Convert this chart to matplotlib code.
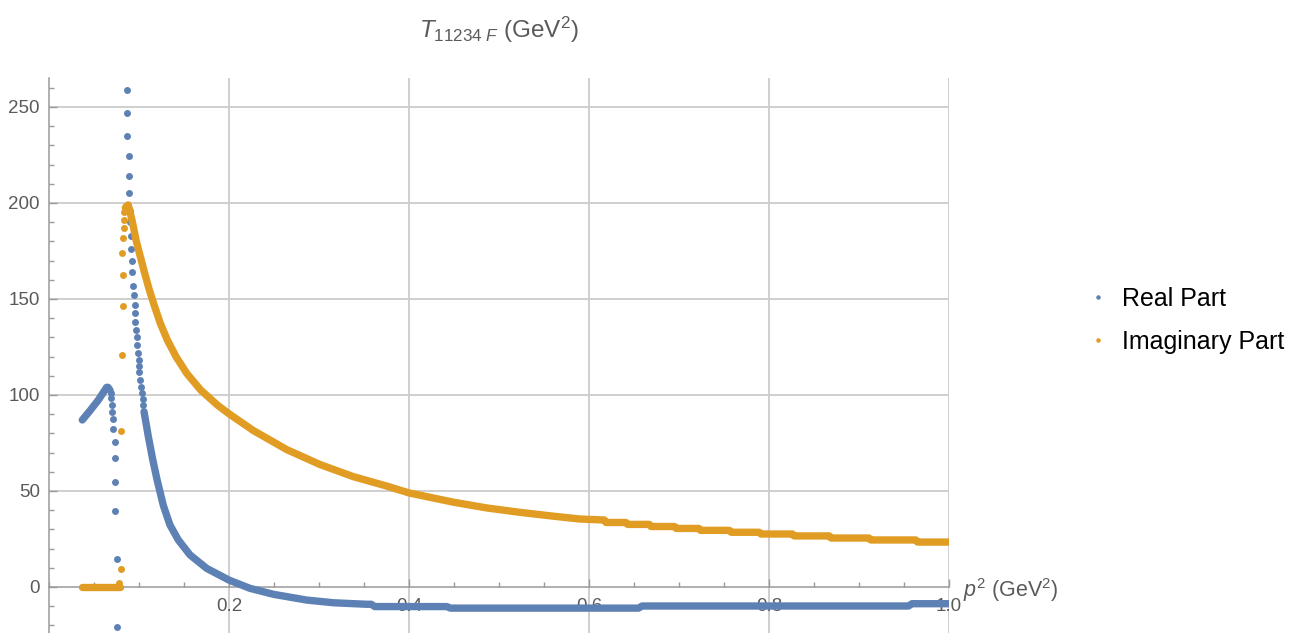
import matplotlib
matplotlib.use("Agg")
import matplotlib.pyplot as plt
from matplotlib.ticker import MultipleLocator

plt.rcParams['font.family'] = ['Liberation Sans', 'DejaVu Sans']
plt.rcParams['mathtext.fontset'] = 'custom'
plt.rcParams['mathtext.rm'] = 'Liberation Sans'
plt.rcParams['mathtext.it'] = 'Liberation Sans:italic'

# ---- real part ----
# dense rise before the first pole
re_rise_x = [0.0370, 0.0450, 0.0550, 0.0641, 0.0655, 0.0678]
re_rise_y = [87.0, 91.5, 97.5, 104.0, 104.0, 102.5]
# sparse fall into the pole
re_drop_x = [0.0685, 0.0690, 0.0696, 0.0700, 0.0707, 0.0707, 0.0733, 0.0733,
             0.0735, 0.0735, 0.0752, 0.0759]
re_drop_y = [101.0, 98.5, 94.8, 91.3, 87.3, 82.3, 75.4, 67.0,
             54.8, 39.7, 14.4, -21.0]
# sparse points coming back down from above
re_top_x = [0.0863, 0.0863, 0.0863, 0.0885, 0.0885, 0.0885, 0.0896, 0.0900,
            0.0907, 0.0907, 0.0926, 0.0926, 0.0937, 0.0948, 0.0952, 0.0952,
            0.0954, 0.0963, 0.0974, 0.0978, 0.0993, 0.0996, 0.0996, 0.0998,
            0.1011, 0.1022, 0.1030, 0.1041, 0.1048]
re_top_y = [259.0, 247.0, 235.0, 224.5, 214.0, 205.0, 196.0, 190.0,
            183.0, 176.0, 170.0, 164.0, 157.0, 152.0, 147.0, 142.5,
            138.0, 134.0, 130.0, 126.0, 122.0, 118.0, 115.0, 112.0,
            108.0, 104.0, 101.0, 98.0, 95.0]
# dense tail
re_tail_x = [0.1056, 0.1104, 0.1152, 0.1200, 0.1270, 0.1344, 0.1437, 0.1567,
             0.1752, 0.2000, 0.2233, 0.2493, 0.2863, 0.3160,
             0.3530, 0.3580, 0.3620, 0.4420, 0.4460, 0.6550, 0.6590,
             0.9550, 0.9590, 1.0000]
re_tail_y = [91.3, 78.3, 66.5, 56.0, 42.5, 32.3, 24.5, 16.7,
             9.7, 3.6, -0.7, -3.8, -6.8, -8.2,
             -9.0, -9.0, -10.2, -10.2, -11.0, -11.0, -9.9,
             -9.9, -8.7, -8.7]

# ---- imaginary part ----
im_zero_x = [0.0363, 0.0785]
im_zero_y = [0.0, 0.0]
im_rise_x = [0.0780, 0.0796, 0.0796, 0.0807, 0.0819, 0.0819, 0.0815, 0.0819,
             0.0837, 0.0837, 0.0833]
im_rise_y = [1.9, 9.2, 81.4, 120.6, 146.2, 162.5, 173.8, 181.6,
             186.8, 191.1, 195.5]
im_tail_x = [0.0848, 0.0865, 0.0880, 0.0895, 0.0930, 0.0967, 0.1015, 0.1063,
             0.1115, 0.1174, 0.1237, 0.1315, 0.1411, 0.1530, 0.1685, 0.1870,
             0.2000, 0.2270, 0.2640, 0.3010, 0.3380, 0.3750, 0.4000, 0.4490,
             0.4860, 0.5230, 0.5600, 0.5900,
             0.617, 0.619, 0.641, 0.643, 0.667, 0.669, 0.695, 0.697,
             0.722, 0.724, 0.756, 0.758, 0.789, 0.791, 0.826, 0.828,
             0.867, 0.869, 0.911, 0.913, 0.963, 0.965, 1.000]
im_tail_y = [197.5, 198.5, 199.0, 196.5, 189.4, 180.7, 172.0, 163.4,
             154.7, 146.0, 137.3, 128.6, 120.0, 111.3, 102.6, 94.8,
             90.2, 81.5, 71.6, 63.8, 57.5, 52.6, 49.0, 44.2,
             41.2, 38.9, 36.9, 35.4,
             34.9, 33.6, 33.6, 32.6, 32.6, 31.5, 31.5, 30.5,
             30.5, 29.5, 29.5, 28.5, 28.5, 27.6, 27.6, 26.6,
             26.6, 25.5, 25.5, 24.5, 24.5, 23.4, 23.4]

xticks = [0.2, 0.4, 0.6, 0.8, 1.0]
yticks = [0, 50, 100, 150, 200, 250]

blue = '#5E81B5'
orange = '#E19C24'
grid_c = '#cccccc'
axis_c = '#9a9a9a'
text_c = '#5a5a5a'

fig = plt.figure(figsize=(12.89, 6.33), dpi=100)
ax = fig.add_axes([49 / 1289, 0, 900 / 1289, 555 / 633])
ax.set_xlim(0, 1.0)
ax.set_ylim(-23.96, 265.1)

for gx in xticks:
    ax.axvline(gx, color=grid_c, lw=1.3, zorder=1)
for gy in yticks[1:]:
    ax.axhline(gy, color=grid_c, lw=1.3, zorder=1)

dense = dict(ls='-', lw=5.3, solid_capstyle='round', solid_joinstyle='round', zorder=2)
dots = dict(ls='none', marker='o', ms=5.0, mec='none', zorder=2)

ax.plot(re_rise_x, re_rise_y, color=blue, **dense)
ax.plot(re_drop_x, re_drop_y, color=blue, **dots)
h_re, = ax.plot(re_top_x, re_top_y, color=blue, label='Real Part', **dots)
ax.plot(re_tail_x, re_tail_y, color=blue, **dense)

ax.plot(im_zero_x, im_zero_y, color=orange, **dense)
h_im, = ax.plot(im_rise_x, im_rise_y, color=orange, label='Imaginary Part', **dots)
ax.plot(im_tail_x, im_tail_y, color=orange, **dense)

# axes through the origin, Mathematica style
for s in ['top', 'right']:
    ax.spines[s].set_visible(False)
ax.spines['bottom'].set_position(('data', 0))
for s in ['bottom', 'left']:
    ax.spines[s].set_color(axis_c)
    ax.spines[s].set_linewidth(1.1)
    ax.spines[s].set_zorder(1.5)

ax.set_xticks(xticks)
ax.set_xticklabels(['%.1f' % v for v in xticks])
ax.set_yticks(yticks)
ax.set_yticklabels([str(v) for v in yticks])
ax.xaxis.set_minor_locator(MultipleLocator(0.05))
ax.yaxis.set_minor_locator(MultipleLocator(10))
ax.tick_params(which='both', direction='in', color=axis_c, labelcolor=text_c,
               labelsize=13.5, width=1.0)
ax.tick_params(which='major', length=5.5)
ax.tick_params(which='minor', length=3.5)
ax.tick_params(axis='x', pad=8)
ax.tick_params(axis='y', pad=6.5)

ax.annotate(r'$p^2$ (GeV$^2$)', xy=(1.0, 0), xycoords='data',
            xytext=(14, -3), textcoords='offset pixels',
            ha='left', va='center', fontsize=15.5, color=text_c,
            annotation_clip=False)

fig.text(499 / 1289, 1 - 30 / 633, r'$T_{11234\ F}$ (GeV$^2$)',
         ha='center', va='center', fontsize=17.5, color=text_c)

fig.legend(handles=[h_re, h_im], loc='center left',
           bbox_to_anchor=(1090 / 1289, 1 - 320 / 633),
           frameon=False, fontsize=18, markerscale=0.65,
           handlelength=0.6, handletextpad=0.66, labelspacing=0.76,
           borderpad=0, borderaxespad=0)

fig.savefig('out.png', dpi=100)
